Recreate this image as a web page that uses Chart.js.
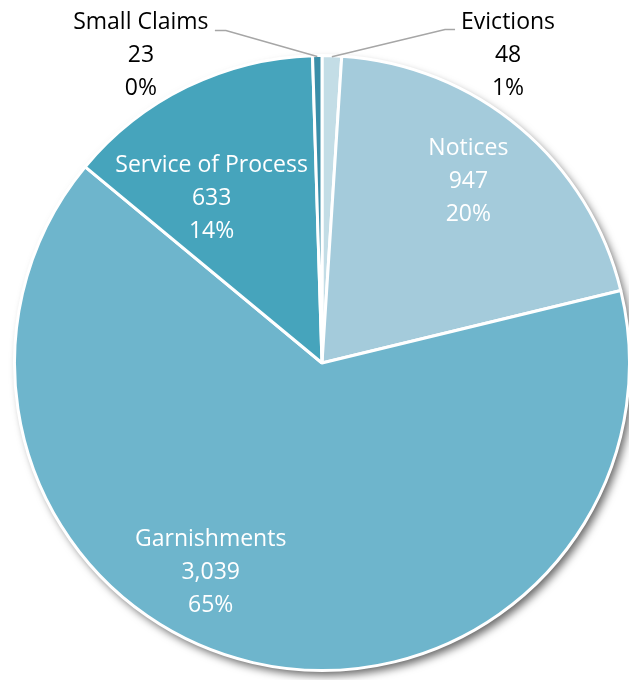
<!DOCTYPE html>
<html>
<head>
<meta charset="utf-8">
<script src="https://cdn.jsdelivr.net/npm/chart.js@4.4.0/dist/chart.umd.min.js"></script>
<style>
    html, body { margin: 0; padding: 0; background: #fff; overflow: hidden; }
    #wrap { position: relative; width: 640px; height: 680px; }
</style>
</head>
<body>
<div id="wrap"><canvas id="chart-pie"></canvas></div>
<script>
(function () {
    'use strict';

    const categories = ['Evictions', 'Notices', 'Garnishments', 'Service of Process', 'Small Claims'];
    const counts     = [48, 947, 3039, 633, 23];
    const percents   = ['1%', '20%', '65%', '14%', '0%'];
    const colors     = ['#c3dde6', '#a4cbdb', '#6eb5cc', '#46a4bc', '#3a8ea8'];

    // label anchors as fractions of the radius, relative to the pie centre
    const labelPos = [
        { x: 0.605, y: -1.0, color: '#000', leader: { elbow: [-63, -26], end: [-53, -26] } },
        { x: 0.476, y: -0.592, color: '#fff' },
        { x: -0.362, y: 0.68, color: '#fff' },
        { x: -0.359, y: -0.534, color: '#fff' },
        { x: -0.589, y: -1.0, color: '#000', leader: { elbow: [85, -25], end: [74, -25] } },
    ];

    function fmt(n) { return new Intl.NumberFormat('en-US').format(n); }

    const shadowPlugin = {
        id: 'pieShadow',
        beforeDatasetsDraw(chart) {
            const arc = chart.getDatasetMeta(0).data[0];
            if (!arc) return;
            const ctx = chart.ctx;
            ctx.save();
            ctx.shadowColor = 'rgba(0,0,0,0.6)';
            ctx.shadowBlur = 8;
            ctx.shadowOffsetX = 4;
            ctx.shadowOffsetY = 5;
            ctx.fillStyle = '#fff';
            ctx.beginPath();
            ctx.arc(arc.x, arc.y, arc.outerRadius, 0, Math.PI * 2);
            ctx.fill();
            ctx.restore();
        }
    };

    const labelPlugin = {
        id: 'pieLabels',
        afterDatasetsDraw(chart) {
            const ctx = chart.ctx;
            const meta = chart.getDatasetMeta(0);
            ctx.save();
            ctx.font = '23px "Open Sans", sans-serif';
            ctx.textAlign = 'center';
            ctx.textBaseline = 'middle';
            meta.data.forEach((arc, i) => {
                const p = labelPos[i];
                const r = arc.outerRadius;
                const lx = arc.x + p.x * r;
                const ly = arc.y + p.y * r;
                if (p.leader) {
                    const mid = (arc.startAngle + arc.endAngle) / 2;
                    ctx.strokeStyle = '#a6a6a6';
                    ctx.lineWidth = 1.5;
                    ctx.beginPath();
                    ctx.moveTo(arc.x + Math.cos(mid) * (r - 1), arc.y + Math.sin(mid) * (r - 1));
                    ctx.lineTo(lx + p.leader.elbow[0], ly + p.leader.elbow[1]);
                    ctx.lineTo(lx + p.leader.end[0], ly + p.leader.end[1]);
                    ctx.stroke();
                }
                ctx.fillStyle = p.color;
                ctx.fillText(categories[i], lx, ly - 33);
                ctx.fillText(fmt(counts[i]), lx, ly);
                ctx.fillText(percents[i], lx, ly + 33);
            });
            ctx.restore();
        }
    };

    new Chart(document.getElementById('chart-pie'), {
        type: 'pie',
        data: {
            labels: categories,
            datasets: [{
                data: counts,
                backgroundColor: colors,
                borderColor: '#fff',
                borderWidth: 3,
                hoverOffset: 0,
            }],
        },
        options: {
            responsive: true,
            maintainAspectRatio: false,
            animation: false,
            layout: { padding: { left: 13, right: 9, top: 54, bottom: 8 } },
            plugins: {
                legend: { display: false },
                tooltip: { enabled: false },
            },
        },
        plugins: [shadowPlugin, labelPlugin],
    });
})();
</script>
</body>
</html>
